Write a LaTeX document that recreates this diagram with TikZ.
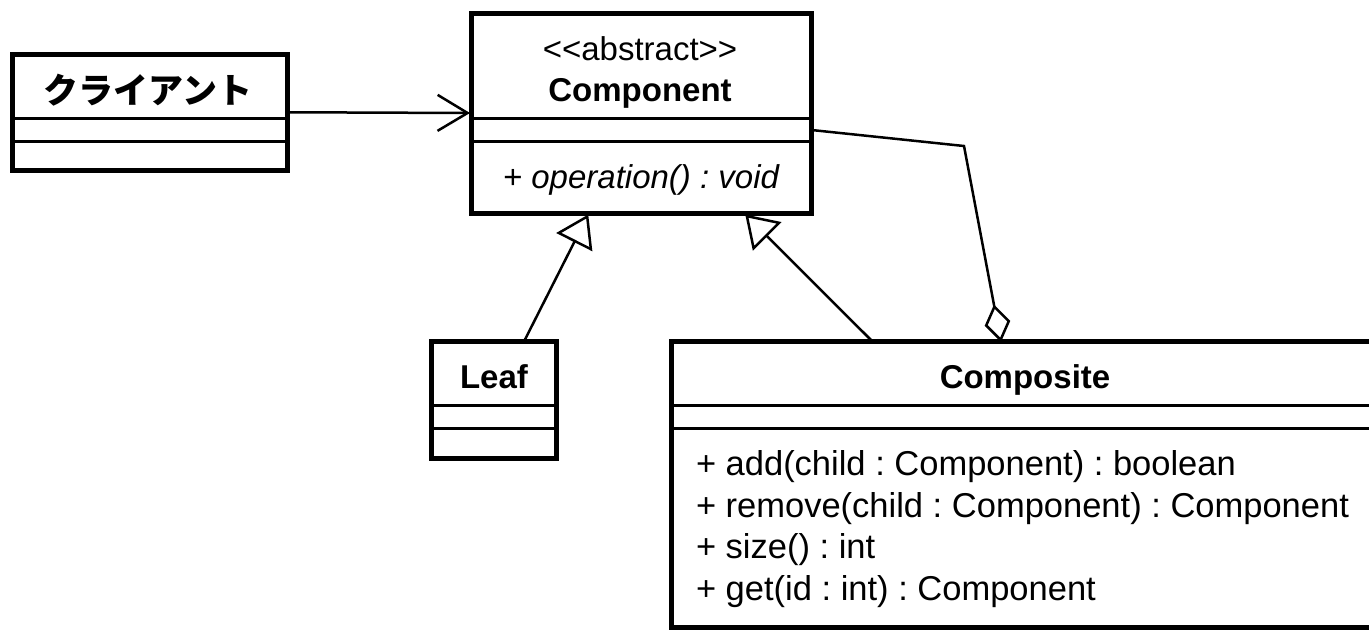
\documentclass[tikz,border=0pt]{standalone}
\usepackage{fontspec}
\setmainfont{Liberation Sans}[Ligatures={NoCommon}]
\newfontfamily\jpfont{Noto Sans CJK JP}
\usetikzlibrary{arrows.meta}
\frenchspacing
\tikzset{
  classbox/.style={draw=black, line width=5pt, fill=white, rectangle, inner sep=0pt, outer sep=0pt},
  sepline/.style={line width=3pt},
  conn/.style={line width=2.5pt, black},
  txt/.style={inner sep=0pt, outer sep=0pt, anchor=base, font=\fontsize{33}{40}\selectfont},
  methodtxt/.style={inner sep=0pt, outer sep=0pt, anchor=base west, font=\fontsize{34.5}{40}\selectfont},
  gen/.style={conn, -{Triangle[open, length=31pt, width=40pt, fill=white]}},
  navig/.style={conn, -{Straight Barb[length=30pt, width=36pt]}},
  aggr/.style={conn, -{Diamond[open, length=38pt, width=26pt, fill=white]}}
}
\begin{document}
\begin{tikzpicture}[x=1pt, y=-1pt]
\useasboundingbox (0,0) rectangle (1369,630);
\clip (0,0) rectangle (1369,630);
\fill[white] (0,0) rectangle (1369,630);

% boxes
\node[classbox, minimum width=274.5pt, minimum height=116.5pt] (client) at (149.75,112.25) {};
\node[classbox, minimum width=340.5pt, minimum height=200pt] (comp) at (641.25,113) {};
\node[classbox, minimum width=125pt, minimum height=117.5pt] (leaf) at (493.75,399.75) {};
\node[classbox, minimum width=709pt, minimum height=286pt] (compo) at (1025.5,484) {};

% separators
\draw[sepline] (client.west |- 0,118.5) -- (client.east |- 0,118.5);
\draw[sepline] (client.west |- 0,141.5) -- (client.east |- 0,141.5);
\draw[sepline] (comp.west |- 0,118) -- (comp.east |- 0,118);
\draw[sepline] (comp.west |- 0,141) -- (comp.east |- 0,141);
\draw[sepline] (leaf.west |- 0,405) -- (leaf.east |- 0,405);
\draw[sepline] (leaf.west |- 0,428) -- (leaf.east |- 0,428);
\draw[sepline] (compo.west |- 0,405) -- (compo.east |- 0,405);
\draw[sepline] (compo.west |- 0,428) -- (compo.east |- 0,428);

% texts
\node[txt, font=\fontsize{35}{40}\selectfont\jpfont\bfseries] (clientname) at (148,103) {クライアント};
\node[txt] (stereo) at (640,60) {{<}{<}abstract{>}{>}};
\node[txt, font=\fontsize{33}{40}\selectfont\bfseries] (compname) at (640,101) {Component};
\node[txt, font=\fontsize{33}{40}\selectfont\itshape] (op) at (641,188) {+ operation() : void};
\node[txt, font=\fontsize{33}{40}\selectfont\bfseries] (leafname) at (494,388) {Leaf};
\node[txt, font=\fontsize{33}{40}\selectfont\bfseries] (componame) at (1025,388) {Composite};
\node[methodtxt] (m1) at (696,475) {+ add(child : Component) : boolean};
\node[methodtxt] (m2) at (696,517) {+ remove(child : Component) : Component};
\node[methodtxt] (m3) at (696,558) {+ size() : int};
\node[methodtxt] (m4) at (696,600) {+ get(id : int) : Component};

% connectors
\draw[navig] (client.east) -- ([xshift=-1pt]comp.west);
\draw[gen] ([xshift=30.5pt]leaf.north) -- ([xshift=-53pt, yshift=-1.5pt]comp.south);
\draw[gen] ([xshift=-153.5pt]compo.north) -- ([xshift=104pt, yshift=-1.5pt]comp.south);
\coordinate (bend) at (964,146);
\draw[aggr] ([yshift=-17pt]comp.east) -- (bend) -- ([xshift=-24.5pt, yshift=-1pt]compo.north);
\end{tikzpicture}
\end{document}
